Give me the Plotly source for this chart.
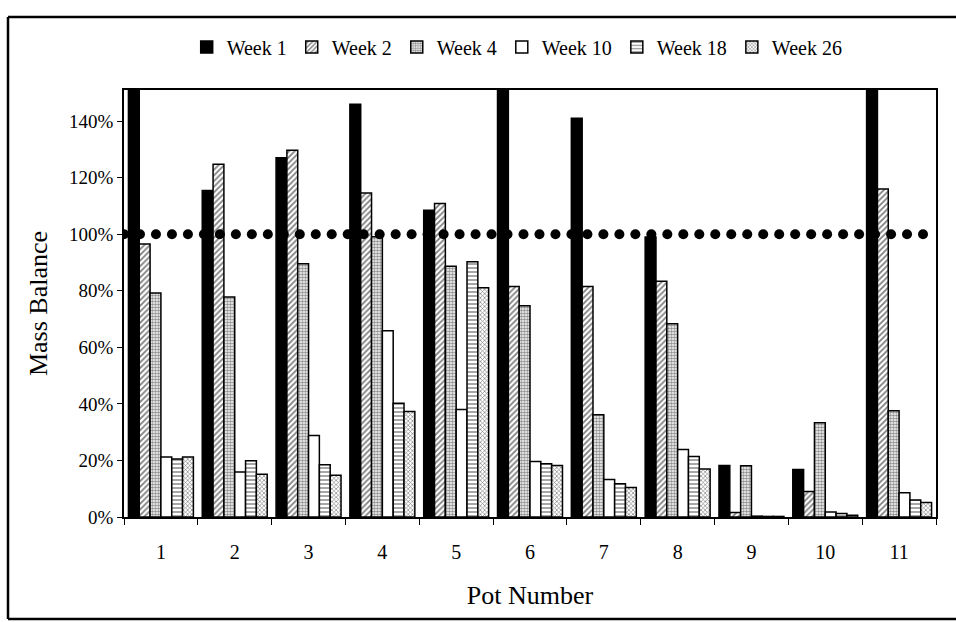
import numpy as np
import plotly.graph_objects as go

pots = ["1", "2", "3", "4", "5", "6", "7", "8", "9", "10", "11"]
series_names = ["Week 1", "Week 2", "Week 4", "Week 10", "Week 18", "Week 26"]

week1 = [1.55, 1.155, 1.27, 1.46, 1.085, 1.58, 1.41, 0.99, 0.182, 0.168, 1.55]
week2 = [0.965, 1.247, 1.297, 1.146, 1.109, 0.815, 0.815, 0.834, 0.016, 0.090, 1.160]
week4 = [0.792, 0.778, 0.896, 0.991, 0.887, 0.747, 0.362, 0.683, 0.181, 0.333, 0.376]
week10 = [0.212, 0.159, 0.288, 0.659, 0.380, 0.196, 0.133, 0.239, 0.003, 0.018, 0.086]
week18 = [0.205, 0.199, 0.185, 0.402, 0.903, 0.188, 0.118, 0.214, 0.002, 0.012, 0.060]
week26 = [0.212, 0.151, 0.148, 0.373, 0.811, 0.182, 0.104, 0.170, 0.002, 0.006, 0.051]

y_tickvals = [0, 0.2, 0.4, 0.6, 0.8, 1.0, 1.2, 1.4]
y_ticktext = ["0%", "20%", "40%", "60%", "80%", "100%", "120%", "140%"]
reference_level = 1.0

FONT = "Liberation Serif, Times New Roman, DejaVu Serif, serif"

styles = [
    dict(color="black", pattern=dict(shape="")),
    dict(color="white", pattern=dict(shape="/", fgcolor="black", bgcolor="white", size=4, solidity=0.45)),
    dict(color="white", pattern=dict(shape=".", fgcolor="#222", bgcolor="white", size=3, solidity=0.6)),
    dict(color="white", pattern=dict(shape="")),
    dict(color="white", pattern=dict(shape="-", fgcolor="black", bgcolor="white", size=4, solidity=0.35)),
    dict(color="white", pattern=dict(shape="x", fgcolor="black", bgcolor="white", size=3, solidity=0.4)),
]

fig = go.Figure()
for name, vals, st in zip(series_names, [week1, week2, week4, week10, week18, week26], styles):
    fig.add_trace(go.Bar(
        x=pots, y=vals, name=name,
        marker=dict(color=st["color"], pattern=st["pattern"],
                    line=dict(color="black", width=1.5)),
    ))

# dotted 100% reference line, drawn as round dots on an overlay axis
n_dots = 51
dot_x = np.linspace(0.0, 0.984, n_dots)
fig.add_trace(go.Scatter(
    x=dot_x, y=[reference_level] * n_dots, xaxis="x2", mode="markers",
    marker=dict(symbol="circle", size=10, color="black"),
    showlegend=False, hoverinfo="skip",
))

W, H = 956, 622
L, R, T, B = 124, 20, 90, 105
fig.update_layout(
    width=W, height=H,
    margin=dict(l=L, r=R, t=T, b=B),
    paper_bgcolor="white", plot_bgcolor="white",
    font=dict(family=FONT, color="black", size=19),
    barmode="group", bargap=0.12, bargroupgap=0,
    showlegend=True,
    legend=dict(orientation="h", xref="container", yref="container",
                x=0.541, y=0.9244, xanchor="center", yanchor="middle",
                font=dict(family=FONT, size=20, color="black"),
                itemwidth=30, tracegroupgap=0),
    xaxis=dict(type="category", showline=True, linecolor="black", linewidth=1.5,
               mirror=True, ticks="outside", tickson="boundaries", ticklen=6,
               tickcolor="black", tickwidth=1, ticklabelstandoff=16,
               tickfont=dict(family=FONT, size=20, color="black"),
               title=dict(text="Pot Number", font=dict(family=FONT, size=26, color="black"),
                          standoff=24),
               showgrid=False, zeroline=False),
    xaxis2=dict(overlaying="x", range=[0, 1], visible=False),
    yaxis=dict(range=[0, 1.51], showline=True, linecolor="black", linewidth=1.5,
               mirror=True, ticks="outside", ticklen=5, tickcolor="black", tickwidth=1,
               tickvals=y_tickvals, ticktext=y_ticktext,
               tickfont=dict(family=FONT, size=19, color="black"),
               title=dict(text="Mass Balance", font=dict(family=FONT, size=26, color="black"),
                          standoff=14),
               showgrid=False, zeroline=False),
)

# outer frame of the chart
pw, ph = W - L - R, H - T - B
frame = dict(type="line", xref="paper", yref="paper", line=dict(color="black", width=2.5))
x_left, x_right = (8 - L) / pw, (W - L) / pw
y_top, y_bot = (T + ph - 17) / ph, (T + ph - 619) / ph
fig.add_shape(x0=x_left, x1=x_left, y0=y_bot, y1=y_top, **frame)
fig.add_shape(x0=x_left, x1=x_right, y0=y_top, y1=y_top, **frame)
fig.add_shape(x0=x_left, x1=x_right, y0=y_bot, y1=y_bot, **frame)

fig.write_html(
    "out.html",
    config={"displayModeBar": False},
    post_script="document.body.style.margin='0';document.documentElement.style.overflow='hidden';",
)
